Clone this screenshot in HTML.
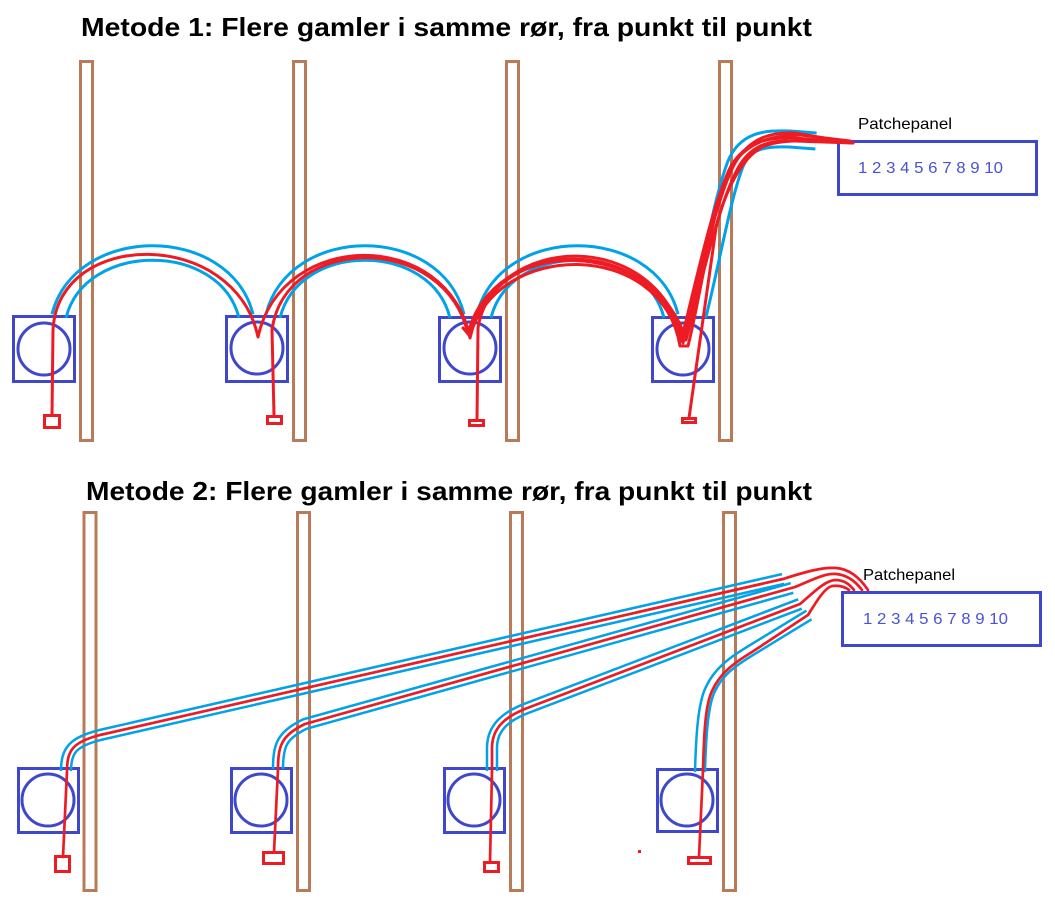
<!DOCTYPE html>
<html>
<head>
<meta charset="utf-8">
<style>
html,body{margin:0;padding:0;background:#fff;}
svg{display:block;}
</style>
</head>
<body>
<svg width="1055" height="903" viewBox="0 0 1055 903" xmlns="http://www.w3.org/2000/svg">
<defs>
  <!-- top cables -->
  <path id="ta1" d="M 59,316 C 80,232 225,232 246,316"/>
  <path id="ta2" d="M 273,316 C 294,232 436,232 457,316"/>
  <path id="ta3" d="M 484,316 C 505,232 650,232 671,316"/>
  <path id="ta4" d="M 698,316 C 712,260 722,200 735,165 C 745,140 765,138 790,139 L 816,141"/>
  <!-- bottom cables -->
  <path id="bc1" d="M 66,771 C 66,750 73,742 100,735 L 783,579"/>
  <path id="bc2" d="M 278,769 C 278,745 282,735 305,724 L 792,588"/>
  <path id="bc3" d="M 492,771 L 492,748 C 492,728 505,716 530,707 L 800,604"/>
  <path id="bc4" d="M 700,772 C 701,735 703,705 710,690 C 718,672 732,662 750,651 L 809,615"/>

  <mask id="mta1" maskUnits="userSpaceOnUse" x="0" y="0" width="1055" height="903"><rect width="1055" height="903" fill="#fff"/><use href="#ta1" fill="none" stroke="#000" stroke-width="11.5"/></mask>
  <mask id="mta2" maskUnits="userSpaceOnUse" x="0" y="0" width="1055" height="903"><rect width="1055" height="903" fill="#fff"/><use href="#ta2" fill="none" stroke="#000" stroke-width="11.5"/></mask>
  <mask id="mta3" maskUnits="userSpaceOnUse" x="0" y="0" width="1055" height="903"><rect width="1055" height="903" fill="#fff"/><use href="#ta3" fill="none" stroke="#000" stroke-width="11.5"/></mask>
  <mask id="mta4" maskUnits="userSpaceOnUse" x="0" y="0" width="1055" height="903"><rect width="1055" height="903" fill="#fff"/><use href="#ta4" fill="none" stroke="#000" stroke-width="13"/></mask>
  <mask id="mbc1" maskUnits="userSpaceOnUse" x="0" y="0" width="1055" height="903"><rect width="1055" height="903" fill="#fff"/><use href="#bc1" fill="none" stroke="#000" stroke-width="7.5"/></mask>
  <mask id="mbc2" maskUnits="userSpaceOnUse" x="0" y="0" width="1055" height="903"><rect width="1055" height="903" fill="#fff"/><use href="#bc2" fill="none" stroke="#000" stroke-width="7.5"/></mask>
  <mask id="mbc3" maskUnits="userSpaceOnUse" x="0" y="0" width="1055" height="903"><rect width="1055" height="903" fill="#fff"/><use href="#bc3" fill="none" stroke="#000" stroke-width="7.5"/></mask>
  <mask id="mbc4" maskUnits="userSpaceOnUse" x="0" y="0" width="1055" height="903"><rect width="1055" height="903" fill="#fff"/><use href="#bc4" fill="none" stroke="#000" stroke-width="7.5"/></mask>
</defs>

<rect width="1055" height="903" fill="#fff"/>

<!-- Titles -->
<text x="81" y="36" font-family="'Liberation Sans', sans-serif" font-weight="bold" font-size="26" fill="#000" textLength="731" lengthAdjust="spacingAndGlyphs">Metode 1: Flere gamler i samme rør, fra punkt til punkt</text>
<text x="86" y="500" font-family="'Liberation Sans', sans-serif" font-weight="bold" font-size="26" fill="#000" textLength="726" lengthAdjust="spacingAndGlyphs">Metode 2: Flere gamler i samme rør, fra punkt til punkt</text>

<!-- Posts -->
<g fill="none" stroke="#b97a57" stroke-width="3">
  <rect x="80.5" y="61.5" width="12" height="379"/>
  <rect x="293.5" y="61.5" width="12" height="379"/>
  <rect x="506.5" y="61.5" width="12" height="379"/>
  <rect x="719.5" y="61.5" width="12" height="379"/>
  <rect x="84" y="512.5" width="12" height="378"/>
  <rect x="297.5" y="512.5" width="12" height="378"/>
  <rect x="510.5" y="512.5" width="12" height="378"/>
  <rect x="723.5" y="512.5" width="12" height="378"/>
</g>

<!-- Boxes -->
<g fill="none" stroke="#3f48cc" stroke-width="3">
  <rect x="13.5" y="316.5" width="61" height="65"/>
  <circle cx="44" cy="349" r="26"/>
  <rect x="226.5" y="316.5" width="61" height="65"/>
  <circle cx="257" cy="348" r="26"/>
  <rect x="439.5" y="317.5" width="61" height="64"/>
  <circle cx="470" cy="348" r="26"/>
  <rect x="652.5" y="317.5" width="61" height="64"/>
  <circle cx="683" cy="349" r="26"/>

  <rect x="18.5" y="768.5" width="60" height="64"/>
  <circle cx="48" cy="800" r="26"/>
  <rect x="231.5" y="768.5" width="60" height="64"/>
  <circle cx="261" cy="800" r="26"/>
  <rect x="444.5" y="768.5" width="60" height="64"/>
  <circle cx="474" cy="800" r="26"/>
  <rect x="657.5" y="769.5" width="60" height="62"/>
  <circle cx="687" cy="800" r="26"/>

  <rect x="838.5" y="141.5" width="198" height="53"/>
  <rect x="842.5" y="592.5" width="198" height="53"/>
</g>

<!-- Patch panel text -->
<g font-family="'Liberation Sans', sans-serif">
  <text x="858" y="129" font-size="16" fill="#000" textLength="94" lengthAdjust="spacingAndGlyphs">Patchepanel</text>
  <text x="858" y="173" font-size="16" fill="#4a52d6" textLength="145" lengthAdjust="spacingAndGlyphs">1 2 3 4 5 6 7 8 9 10</text>
  <text x="863" y="580" font-size="16" fill="#000" textLength="92" lengthAdjust="spacingAndGlyphs">Patchepanel</text>
  <text x="863" y="624" font-size="16" fill="#4a52d6" textLength="145" lengthAdjust="spacingAndGlyphs">1 2 3 4 5 6 7 8 9 10</text>
</g>

<!-- Blue cable sheaths -->
<g fill="none" stroke="#00a2e8" stroke-linecap="butt">
  <use href="#ta1" stroke-width="17.5" mask="url(#mta1)"/>
  <use href="#ta2" stroke-width="17.5" mask="url(#mta2)"/>
  <use href="#ta3" stroke-width="17.5" mask="url(#mta3)"/>
  <use href="#ta4" stroke-width="19" mask="url(#mta4)"/>
  <use href="#bc1" stroke-width="12.5" mask="url(#mbc1)"/>
  <use href="#bc2" stroke-width="12.5" mask="url(#mbc2)"/>
  <use href="#bc3" stroke-width="12.5" mask="url(#mbc3)"/>
  <use href="#bc4" stroke-width="12.5" mask="url(#mbc4)"/>
</g>

<!-- Red wires top -->
<g fill="none" stroke="#ed1c24" stroke-width="3" stroke-linejoin="round" stroke-linecap="round">
  <path d="M 52,415 L 53,330 C 58,228 235,228 258,337 C 282,228 448,228 470,338 C 494,228 660,228 683,343 C 700,280 715,200 735,163 C 750,138 770,132 795,133 L 853,143"/>
  <path d="M 274,416 L 272,330 C 285,234 445,232 468,334 C 492,234 658,232 681,341 C 697,278 712,205 731,166 C 746,141 768,137 795,138 L 853,143"/>
  <path d="M 477,420 L 478,328 C 492,236 655,236 686,340 C 702,280 718,205 738,168 C 752,143 772,140 795,141 L 853,143"/>
  <path d="M 463,328 L 470,336 C 496,240 662,238 680,346 L 688,346 C 703,285 712,210 729,170 C 745,143 770,135 800,135 L 850,141"/>
  <path d="M 689,418 L 716,228 C 725,190 742,158 762,147 C 780,139 805,140 853,143"/>
</g>

<!-- Red wires bottom -->
<g fill="none" stroke="#ed1c24" stroke-width="2.7" stroke-linejoin="round" stroke-linecap="round">
  <path d="M 63,857 L 67,771 C 67,750 73,742 100,735 L 783,579 C 805,572 822,567 836,568 C 850,569 860,578 868,590"/>
  <path d="M 274,852 L 278,769 C 278,745 282,735 305,724 L 795,587 C 812,580 825,573 836,574 C 848,575 856,582 862,590"/>
  <path d="M 490,862 L 492,771 L 492,748 C 492,728 505,716 530,707 L 800,604 C 812,594 824,581 835,580 C 845,580 850,585 854,590"/>
  <path d="M 699,857 L 703,770 C 704,735 705,706 712,691 C 720,673 734,663 752,652 L 808,615 C 815,604 824,588 832,586 C 840,585 845,587 849,590"/>
</g>

<!-- Red terminal rects -->
<g fill="none" stroke="#ed1c24" stroke-width="3">
  <rect x="44.5" y="415.5" width="15" height="12"/>
  <rect x="267.5" y="416.5" width="14" height="7"/>
  <rect x="469.5" y="420.5" width="14" height="5"/>
  <rect x="682.5" y="418.5" width="13" height="4"/>

  <rect x="55.5" y="856.5" width="14" height="15"/>
  <rect x="263.5" y="852.5" width="20" height="11"/>
  <rect x="484.5" y="862.5" width="14" height="9"/>
  <rect x="688.5" y="857.5" width="22" height="6"/>
</g>
<rect x="638" y="850" width="3" height="3" fill="#ed1c24"/>
</svg>
</body>
</html>
